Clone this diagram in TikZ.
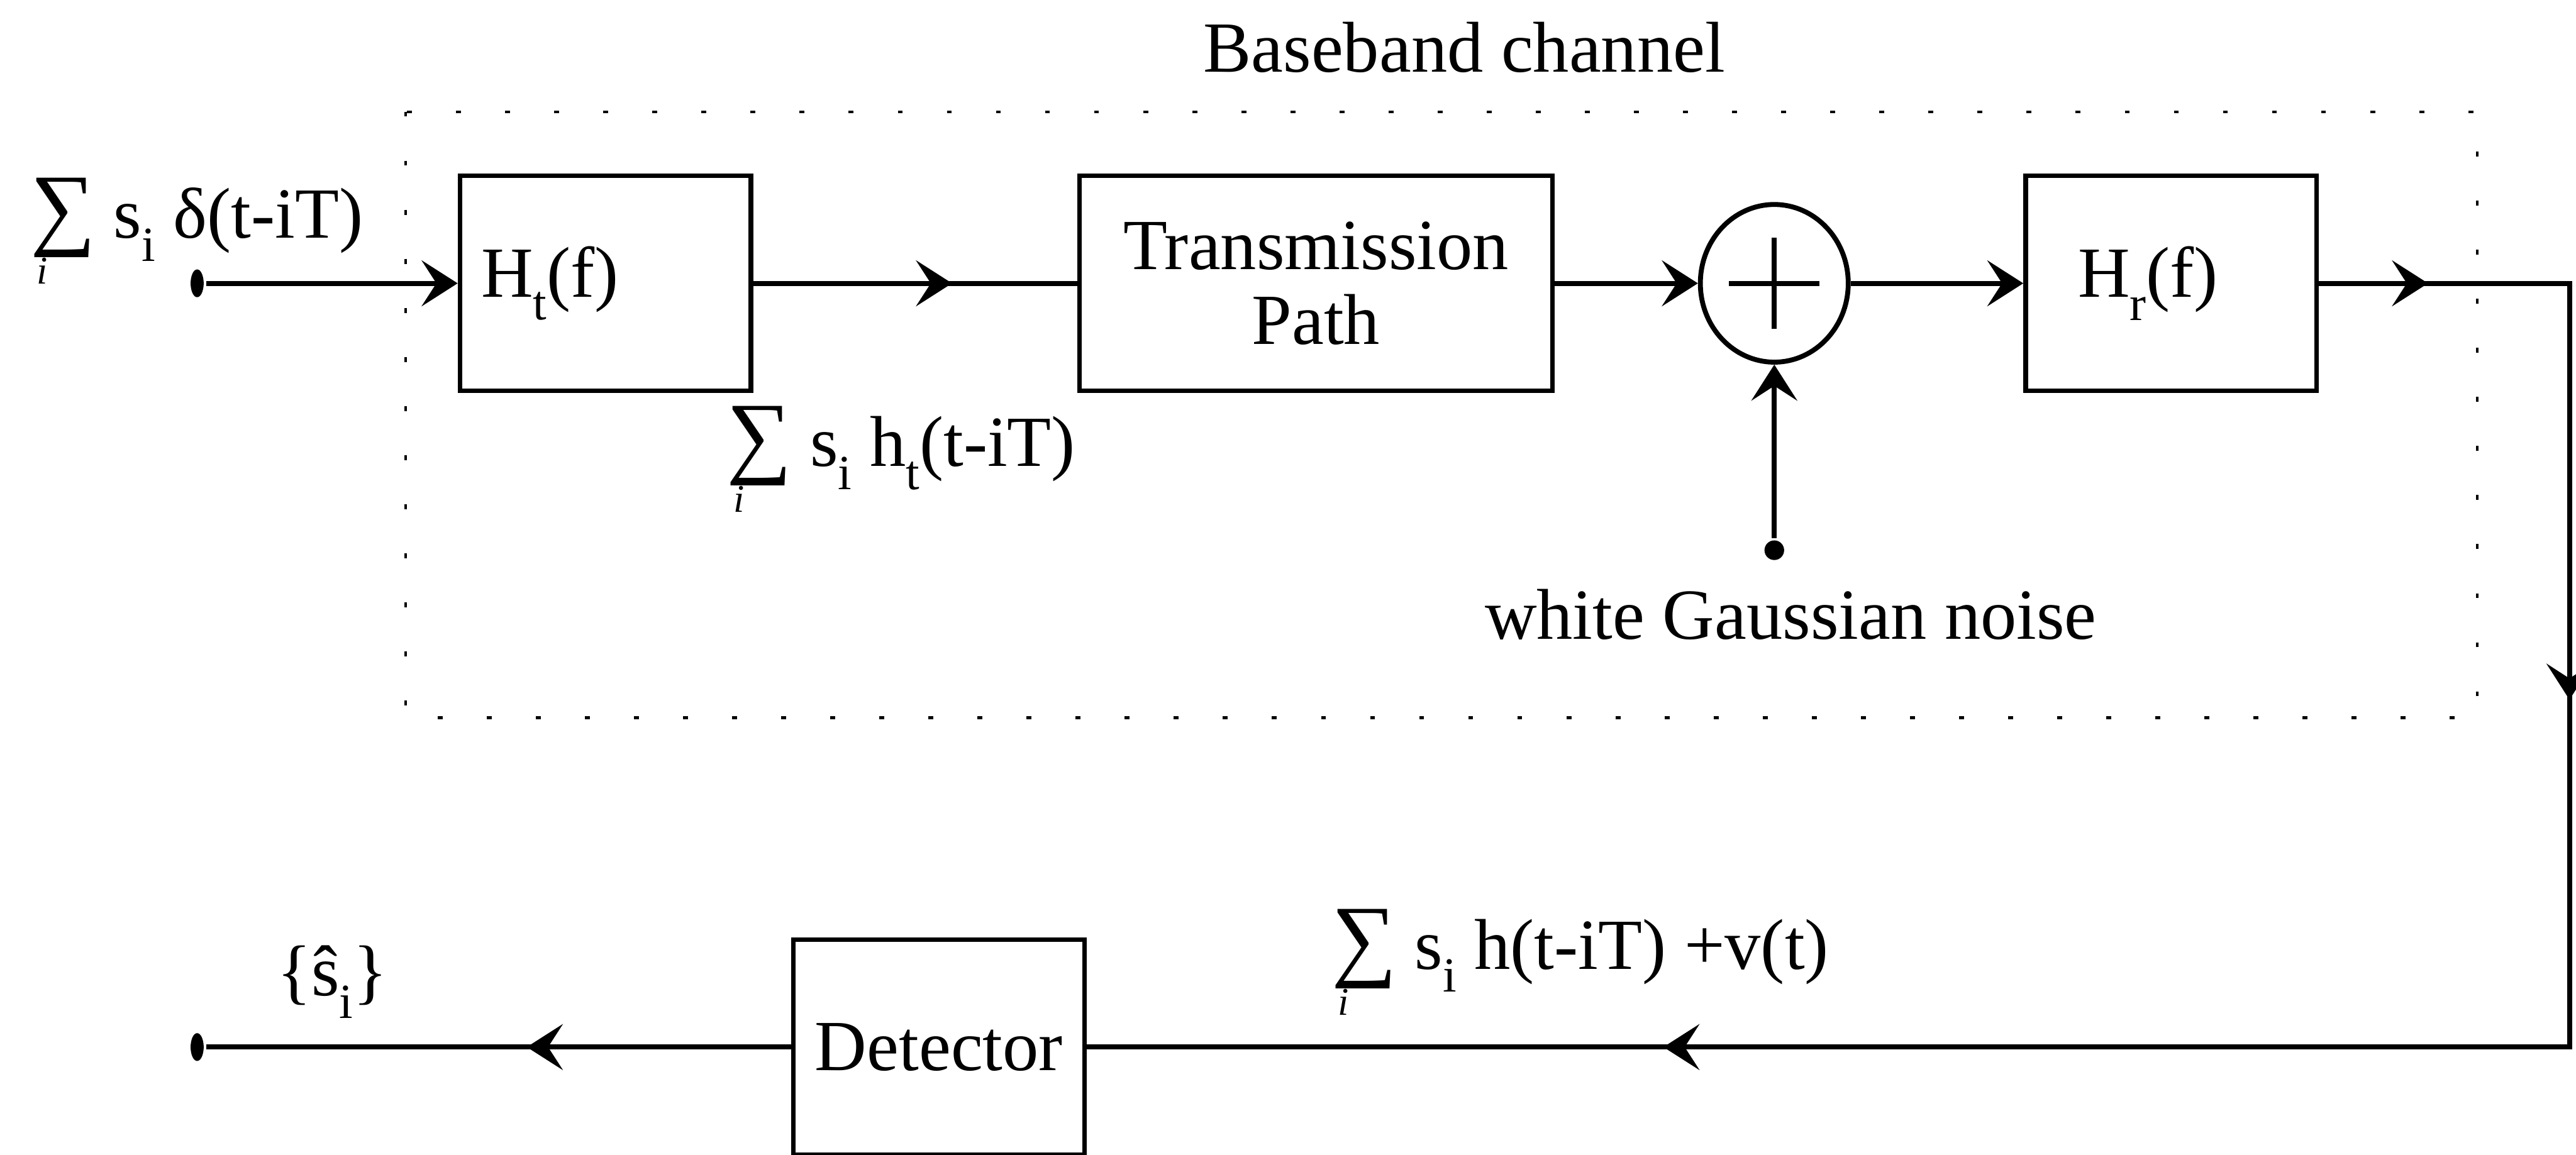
\documentclass[tikz,border=0pt]{standalone}
\usepackage{fontspec}
\setmainfont{Liberation Serif}
\usetikzlibrary{shapes.geometric,arrows.meta,decorations.markings}

\newcommand{\subtxt}[1]{\raisebox{-7pt}{\fontsize{15}{15}\selectfont #1}}
\newcommand{\sumi}{\makebox[0pt][l]{\hspace{2pt}\raisebox{-14pt}{\fontsize{12}{12}\selectfont\itshape i}}{\fontsize{28}{28}\selectfont ∑}}

\tikzset{
  blk/.style={draw, line width=1.4pt, minimum width=88.9pt, minimum height=65.8pt, inner sep=0pt},
  lbl/.style={inner sep=0pt, anchor=base west},
  dotin/.style={ellipse, fill, minimum width=4pt, minimum height=8.5pt, inner sep=0pt},
  midarrow/.style={postaction={decorate, decoration={markings, mark=at position #1 with {\arrow{>}}}}}
}

\begin{document}
\begin{tikzpicture}[x=0.5021pt, y=-0.5021pt, line width=1.5pt,
  font=\fontsize{22}{23}\selectfont,
  >={Stealth[length=11pt,width=14pt,inset=4.5pt]}]
\useasboundingbox (0,0) rectangle (1568,703);

%%% channel frame
\draw[line width=0.8pt, dash pattern=on 1.5pt off 13.5pt] (247,68) rectangle (1508,437);
\node[lbl] (bbtitle) at (731,44) {Baseband channel};

%%% blocks
\node[blk, align=left, text width=75.9pt, inner xsep=6.5pt] (ht) at (368.5,172.5) {H\subtxt{t}(f)};
\node[blk, minimum width=144.6pt, align=center] (tp) at (801,172.5) {Transmission\\Path};
\node[ellipse, draw, minimum width=45.2pt, minimum height=48.2pt, inner sep=0pt] (sum) at (1080,172.5) {};
\draw ([xshift=-13.8pt]sum.center) -- ([xshift=13.8pt]sum.center);
\draw ([yshift=-14pt]sum.center) -- ([yshift=14pt]sum.center);
\node[blk, align=left, text width=56.9pt, inner xsep=16pt] (hr) at (1321.5,172.5) {H\subtxt{r}(f)};
\node[blk] (det) at (571.5,637.5) {Detector};

%%% end points
\node[dotin] (in) at (120,172.5) {};
\node[dotin] (out) at (120,637.5) {};
\node[circle, fill, minimum size=6pt, inner sep=0pt] (noise) at (1080,335) {};
\coordinate (c1) at (1564,172.5);
\coordinate (c2) at (1564,637.5);

%%% signal flow
\draw[->] (in) -- (ht);
\draw[midarrow=60.8pt] (ht) -- (tp);
\draw[->] (tp) -- (sum);
\draw[->] (sum) -- (hr);
\draw[->] (noise) -- (sum);
\draw[midarrow=33.4pt, midarrow=203.9pt, midarrow=587pt] (hr) -- (c1) -- (c2) -- (det);
\draw[midarrow=80.8pt] (det) -- (out);

%%% signal labels
\node[lbl] (xin) at (17,145) {\sumi\ s\subtxt{i} δ(t-iT)};
\node[lbl] (xht) at (441,284) {\sumi\ s\subtxt{i} h\subtxt{t}(t-iT)};
\node[lbl] (xrx) at (809,590) {\sumi\ s\subtxt{i} h(t-iT) +v(t)};
\node[lbl] (xhat) at (167,606) {\{ŝ\subtxt{i}\}};
\node[anchor=base, inner sep=0pt] (noiselbl) at (1090,389) {white Gaussian noise};
\end{tikzpicture}
\end{document}
